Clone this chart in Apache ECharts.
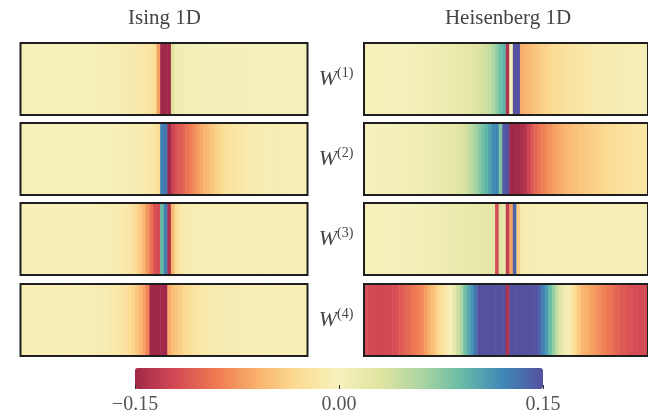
<!DOCTYPE html>
<html>
<head>
<meta charset="utf-8">
<script src="https://cdn.jsdelivr.net/npm/echarts@6/dist/echarts.min.js"></script>
<style>
  html, body { margin: 0; padding: 0; background: #fff; }
  #main { width: 648px; height: 418px; }
</style>
</head>
<body>
<div id="main"></div>
<script>
// weights along the chain, one value per site
var ising1 = [
  -0.002,-0.002,-0.002,-0.002,-0.002,-0.002,-0.002,-0.002,-0.002,-0.002,
  -0.002,-0.002,-0.002,-0.002,-0.002,-0.002,-0.002,-0.002,-0.002,-0.002,
  -0.003,-0.003,-0.004,-0.004,-0.005,-0.005,-0.006,-0.007,-0.008,-0.009,
  -0.010,-0.011,-0.012,-0.014,-0.016,-0.018,-0.022,-0.030,-0.070,-0.150,
  -0.150,-0.150,0.030,0.012,0.009,0.007,0.006,0.005,0.005,0.004,
  0.004,0.004,0.003,0.003,0.003,0.003,0.002,0.002,0.002,0.002,
  0.002,0.002,0.002,0.001,0.001,0.001,0.001,0.001,0.001,0.001,
  0.001,0.001,0.001,0.001,0.001,0.001,0.001,0.001,0.001,0.001
];
var ising2 = [
  -0.002,-0.002,-0.002,-0.002,-0.002,-0.002,-0.002,-0.002,-0.002,-0.002,
  -0.002,-0.002,-0.002,-0.002,-0.002,-0.002,-0.002,-0.002,-0.002,-0.002,
  -0.002,-0.002,-0.002,-0.002,-0.002,-0.003,-0.003,-0.004,-0.004,-0.005,
  -0.006,-0.007,-0.008,-0.009,-0.010,-0.012,-0.015,-0.020,-0.030,0.125,
  0.130,-0.150,-0.125,-0.115,-0.110,-0.105,-0.095,-0.088,-0.080,-0.072,
  -0.065,-0.058,-0.052,-0.046,-0.040,-0.035,-0.030,-0.026,-0.022,-0.019,
  -0.017,-0.015,-0.013,-0.012,-0.011,-0.010,-0.009,-0.008,-0.008,-0.007,
  -0.007,-0.006,-0.006,-0.005,-0.005,-0.005,-0.004,-0.004,-0.004,-0.004
];
var ising3 = [
  -0.003,-0.003,-0.003,-0.003,-0.003,-0.003,-0.003,-0.003,-0.003,-0.003,
  -0.003,-0.003,-0.003,-0.003,-0.003,-0.003,-0.003,-0.003,-0.003,-0.003,
  -0.004,-0.004,-0.005,-0.005,-0.006,-0.007,-0.008,-0.009,-0.011,-0.014,
  -0.018,-0.024,-0.034,-0.045,-0.058,-0.075,-0.095,-0.115,-0.120,0.090,
  0.125,-0.140,-0.055,-0.030,-0.016,-0.010,-0.008,-0.007,-0.006,-0.006,
  -0.005,-0.005,-0.005,-0.005,-0.005,-0.005,-0.005,-0.005,-0.005,-0.005,
  -0.005,-0.005,-0.004,-0.004,-0.004,-0.004,-0.004,-0.004,-0.004,-0.004,
  -0.004,-0.004,-0.004,-0.004,-0.004,-0.004,-0.004,-0.004,-0.004,-0.004
];
var ising4 = [
  -0.004,-0.004,-0.004,-0.004,-0.004,-0.004,-0.004,-0.004,-0.004,-0.004,
  -0.004,-0.004,-0.004,-0.004,-0.004,-0.004,-0.004,-0.004,-0.005,-0.005,
  -0.006,-0.006,-0.007,-0.008,-0.009,-0.010,-0.012,-0.015,-0.019,-0.024,
  -0.030,-0.037,-0.046,-0.056,-0.068,-0.085,-0.150,-0.150,-0.150,-0.150,
  -0.150,-0.062,-0.052,-0.046,-0.040,-0.035,-0.030,-0.025,-0.021,-0.017,
  -0.014,-0.012,-0.011,-0.010,-0.009,-0.008,-0.008,-0.007,-0.007,-0.006,
  -0.006,-0.006,-0.005,-0.005,-0.005,-0.005,-0.005,-0.005,-0.005,-0.005,
  -0.005,-0.005,-0.004,-0.004,-0.004,-0.004,-0.004,-0.004,-0.004,-0.004
];
var heis1 = [
  -0.003,-0.003,-0.002,-0.002,-0.002,-0.001,-0.001,0.000,0.000,0.001,
  0.001,0.002,0.002,0.003,0.004,0.005,0.006,0.007,0.008,0.009,
  0.010,0.011,0.012,0.013,0.014,0.016,0.018,0.020,0.022,0.024,
  0.026,0.029,0.033,0.037,0.042,0.048,0.058,0.072,0.088,0.095,
  -0.140,0.000,0.150,0.150,-0.062,-0.058,-0.054,-0.050,-0.046,-0.043,
  -0.040,-0.037,-0.034,-0.031,-0.029,-0.027,-0.025,-0.023,-0.021,-0.019,
  -0.017,-0.016,-0.014,-0.013,-0.012,-0.011,-0.010,-0.009,-0.009,-0.008,
  -0.008,-0.007,-0.007,-0.006,-0.006,-0.005,-0.005,-0.005,-0.004,-0.004
];
var heis2 = [
  0.000,0.000,0.001,0.001,0.002,0.002,0.003,0.003,0.004,0.004,
  0.005,0.005,0.006,0.007,0.008,0.009,0.010,0.011,0.012,0.013,
  0.014,0.016,0.018,0.020,0.022,0.024,0.027,0.031,0.036,0.044,
  0.053,0.063,0.074,0.085,0.095,0.105,0.118,0.122,0.080,0.145,
  0.150,-0.150,-0.150,-0.148,-0.144,-0.138,-0.125,-0.110,-0.102,-0.094,
  -0.088,-0.082,-0.077,-0.072,-0.067,-0.062,-0.058,-0.055,-0.052,-0.050,
  -0.048,-0.046,-0.044,-0.042,-0.040,-0.038,-0.036,-0.034,-0.032,-0.031,
  -0.029,-0.028,-0.026,-0.025,-0.023,-0.022,-0.020,-0.019,-0.017,-0.016
];
var heis3 = [
  -0.003,-0.003,-0.002,-0.002,-0.001,-0.001,0.000,0.000,0.001,0.001,
  0.002,0.002,0.003,0.003,0.004,0.005,0.005,0.006,0.007,0.008,
  0.009,0.010,0.011,0.012,0.013,0.014,0.015,0.016,0.017,0.018,
  0.019,0.020,0.021,0.022,0.023,0.024,0.025,-0.120,0.030,0.020,
  -0.130,-0.070,0.140,-0.040,-0.012,-0.008,-0.007,-0.006,-0.006,-0.005,
  -0.005,-0.005,-0.005,-0.005,-0.005,-0.005,-0.005,-0.005,-0.005,-0.005,
  -0.005,-0.005,-0.005,-0.005,-0.004,-0.004,-0.004,-0.004,-0.004,-0.004,
  -0.004,-0.004,-0.004,-0.004,-0.004,-0.004,-0.004,-0.004,-0.004,-0.004
];
var heis4 = [
  -0.118,-0.120,-0.121,-0.122,-0.122,-0.122,-0.121,-0.120,-0.118,-0.115,
  -0.110,-0.105,-0.100,-0.095,-0.090,-0.085,-0.080,-0.070,-0.060,-0.050,
  -0.040,-0.030,-0.020,-0.010,0.000,0.020,0.040,0.060,0.085,0.100,
  0.115,0.130,0.150,0.150,0.150,0.150,0.150,0.150,0.150,0.150,
  -0.140,0.150,0.150,0.150,0.150,0.150,0.150,0.150,0.150,0.140,
  0.125,0.110,0.090,0.070,0.045,0.025,0.010,-0.005,-0.015,-0.030,
  -0.045,-0.055,-0.060,-0.065,-0.070,-0.075,-0.080,-0.085,-0.090,-0.095,
  -0.100,-0.105,-0.110,-0.110,-0.115,-0.115,-0.118,-0.120,-0.120,-0.120
];

var panelTitles = ['Ising 1D', 'Heisenberg 1D'];
var rowLabels = ['(1)', '(2)', '(3)', '(4)'];
var barTicks = [-0.15, 0, 0.15];
var barLabels = ['\u22120.15', '0.00', '0.15'];
// spectral-like colormap, low -> high
var spectral = ['#a02848', '#d44a55', '#ef7a52', '#f9b26c', '#fbdd95', '#f6f1bc',
                '#e0e4a0', '#add6a2', '#68bca6', '#3e89b8', '#5551a0'];

// row-major: [left, right] per row
var panels = [[ising1, heis1], [ising2, heis2], [ising3, heis3], [ising4, heis4]];

var rowTop = [43, 123, 203, 284];
var colLeft = [20.5, 364];
var panelW = 287, panelH = 72;
var serif = '"Liberation Serif", "DejaVu Serif", serif';

var grids = [], xAxes = [], yAxes = [], series = [], graphics = [];
panels.forEach(function(row, r) {
    row.forEach(function(values, c) {
        var gi = grids.length;
        grids.push({
            left: colLeft[c], top: rowTop[r], width: panelW, height: panelH,
            show: true, borderColor: '#1e1e1e', borderWidth: 2,
            backgroundColor: 'transparent', z: 5
        });
        xAxes.push({ gridIndex: gi, type: 'category', show: false,
                     data: values.map(function(v, i) { return i; }) });
        yAxes.push({ gridIndex: gi, type: 'category', show: false, data: ['w'] });
        series.push({
            type: 'heatmap', xAxisIndex: gi, yAxisIndex: gi,
            data: values.map(function(v, i) { return [i, 0, v]; }),
            emphasis: { disabled: true }, progressive: 0, silent: true
        });
    });
    graphics.push({
        type: 'text', x: 336, y: rowTop[r] + panelH / 2,
        style: {
            text: '{w|W}{s|' + rowLabels[r] + '}',
            align: 'center', verticalAlign: 'middle', fill: '#444',
            rich: {
                w: { fontFamily: serif, fontStyle: 'italic', fontSize: 22, lineHeight: 26,
                     verticalAlign: 'middle', fill: '#444' },
                s: { fontFamily: serif, fontSize: 14, lineHeight: 18,
                     verticalAlign: 'top', fill: '#444' }
            }
        }
    });
});

panelTitles.forEach(function(t, c) {
    graphics.push({
        type: 'text', x: colLeft[c] + 144, y: 18,
        style: { text: t, font: '21px ' + serif, fill: '#444',
                 align: 'center', verticalAlign: 'middle' }
    });
});

// empty grid under the colour bar, only used for its ticks and labels
var barGrid = grids.length;
grids.push({ left: 135, top: 368, width: 408, height: 21, show: false });
xAxes.push({
    gridIndex: barGrid, type: 'value', min: -0.15, max: 0.15, interval: 0.15,
    axisLine: { show: false }, splitLine: { show: false }, z: 10,
    axisTick: { inside: true, length: 4, lineStyle: { color: '#333', width: 1 } },
    axisLabel: {
        margin: 6, fontFamily: serif, fontSize: 20, color: '#555',
        formatter: function(v) {
            for (var i = 0; i < barTicks.length; i++) {
                if (Math.abs(barTicks[i] - v) < 1e-9) return barLabels[i];
            }
            return '';
        }
    }
});
yAxes.push({ gridIndex: barGrid, type: 'value', show: false, min: 0, max: 1 });

var option = {
    animation: false,
    backgroundColor: '#fff',
    grid: grids,
    xAxis: xAxes,
    yAxis: yAxes,
    visualMap: {
        type: 'continuous', min: -0.15, max: 0.15,
        orient: 'horizontal', left: 135, top: 368,
        itemWidth: 21, itemHeight: 408, padding: 0,
        text: null, calculable: false, hoverLink: false,
        seriesIndex: series.map(function(s, i) { return i; }),
        inRange: { color: spectral }
    },
    series: series,
    graphic: graphics
};

var myChart = echarts.init(document.getElementById('main'));
myChart.setOption(option);
</script>
</body>
</html>
